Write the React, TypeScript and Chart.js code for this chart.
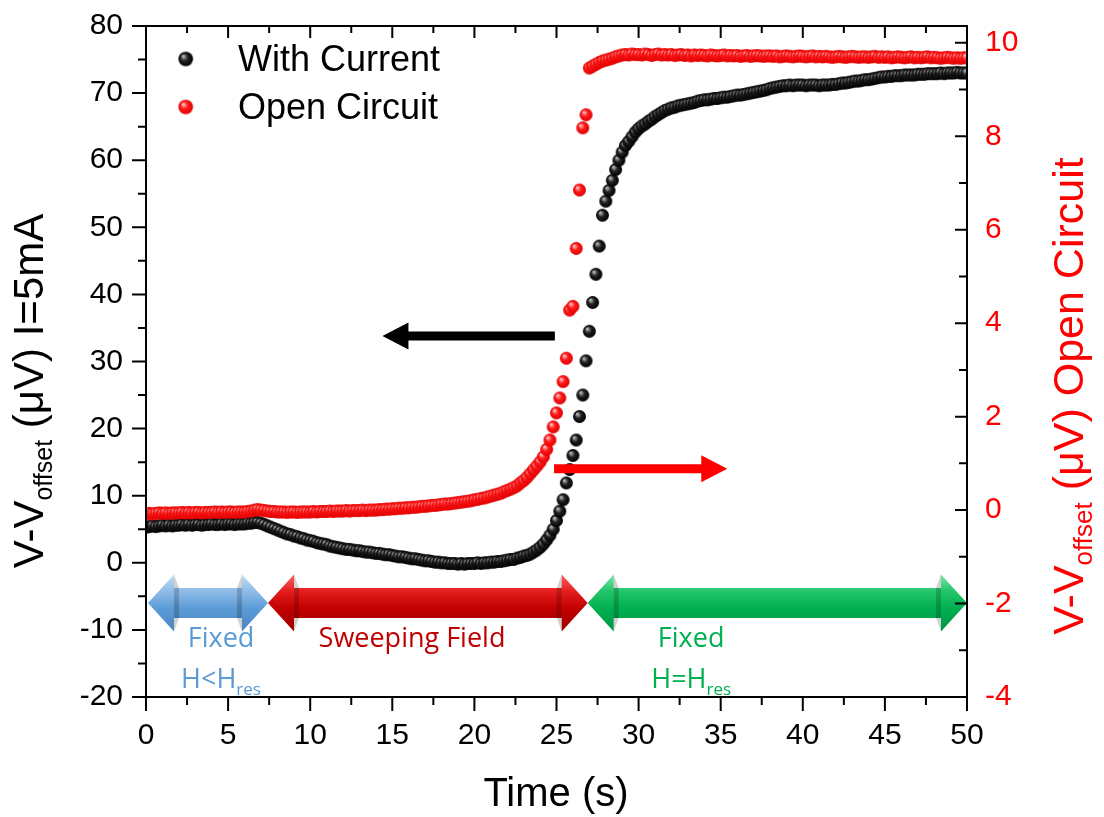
import React, { useEffect, useRef } from "react";
import { Chart, registerables } from "chart.js";

Chart.register(...registerables);

// ---------------- DATA ----------------
const timeSec = [
  0, 0.2, 0.4, 0.6, 0.8, 1, 1.2, 1.4, 1.6, 1.8,
  2, 2.2, 2.4, 2.6, 2.8, 3, 3.2, 3.4, 3.6, 3.8,
  4, 4.2, 4.4, 4.6, 4.8, 5, 5.2, 5.4, 5.6, 5.8,
  6, 6.2, 6.4, 6.6, 6.8, 7, 7.2, 7.4, 7.6, 7.8,
  8, 8.2, 8.4, 8.6, 8.8, 9, 9.2, 9.4, 9.6, 9.8,
  10, 10.2, 10.4, 10.6, 10.8, 11, 11.2, 11.4, 11.6, 11.8,
  12, 12.2, 12.4, 12.6, 12.8, 13, 13.2, 13.4, 13.6, 13.8,
  14, 14.2, 14.4, 14.6, 14.8, 15, 15.2, 15.4, 15.6, 15.8,
  16, 16.2, 16.4, 16.6, 16.8, 17, 17.2, 17.4, 17.6, 17.8,
  18, 18.2, 18.4, 18.6, 18.8, 19, 19.2, 19.4, 19.6, 19.8,
  20, 20.2, 20.4, 20.6, 20.8, 21, 21.2, 21.4, 21.6, 21.8,
  22, 22.2, 22.4, 22.6, 22.8, 23, 23.2, 23.4, 23.6, 23.8,
  24, 24.2, 24.4, 24.6, 24.8, 25, 25.2, 25.4, 25.6, 25.8,
  26, 26.2, 26.4, 26.6, 26.8, 27, 27.2, 27.4, 27.6, 27.8,
  28, 28.2, 28.4, 28.6, 28.8, 29, 29.2, 29.4, 29.6, 29.8,
  30, 30.2, 30.4, 30.6, 30.8, 31, 31.2, 31.4, 31.6, 31.8,
  32, 32.2, 32.4, 32.6, 32.8, 33, 33.2, 33.4, 33.6, 33.8,
  34, 34.2, 34.4, 34.6, 34.8, 35, 35.2, 35.4, 35.6, 35.8,
  36, 36.2, 36.4, 36.6, 36.8, 37, 37.2, 37.4, 37.6, 37.8,
  38, 38.2, 38.4, 38.6, 38.8, 39, 39.2, 39.4, 39.6, 39.8,
  40, 40.2, 40.4, 40.6, 40.8, 41, 41.2, 41.4, 41.6, 41.8,
  42, 42.2, 42.4, 42.6, 42.8, 43, 43.2, 43.4, 43.6, 43.8,
  44, 44.2, 44.4, 44.6, 44.8, 45, 45.2, 45.4, 45.6, 45.8,
  46, 46.2, 46.4, 46.6, 46.8, 47, 47.2, 47.4, 47.6, 47.8,
  48, 48.2, 48.4, 48.6, 48.8, 49, 49.2, 49.4, 49.6, 49.8,
  50,
];

// V - V_offset (µV), I = 5 mA  (left axis)
const withCurrentUV = [
  5.3, 5.4, 5.5, 5.4, 5.5, 5.6, 5.5, 5.6, 5.5, 5.6,
  5.6, 5.7, 5.6, 5.7, 5.6, 5.7, 5.7, 5.6, 5.7, 5.7,
  5.8, 5.7, 5.7, 5.8, 5.7, 5.8, 5.8, 5.7, 5.8, 5.8,
  5.8, 5.9, 5.9, 6.0, 6.0, 5.9, 5.7, 5.5, 5.3, 5.1,
  4.9, 4.7, 4.5, 4.3, 4.2, 4.0, 3.9, 3.7, 3.6, 3.4,
  3.3, 3.2, 3.0, 2.9, 2.8, 2.7, 2.5, 2.4, 2.3, 2.2,
  2.1, 2.0, 2.0, 1.9, 1.8, 1.8, 1.7, 1.6, 1.6, 1.5,
  1.4, 1.4, 1.3, 1.2, 1.2, 1.1, 1.0, 0.9, 0.9, 0.8,
  0.7, 0.6, 0.6, 0.5, 0.4, 0.3, 0.3, 0.2, 0.1, 0.1,
  0.0, 0.0, -0.1, -0.1, -0.1, -0.2, -0.1, -0.2, -0.1, -0.1,
  -0.1, 0.0, -0.1, 0.0, 0.0, 0.1, 0.1, 0.2, 0.2, 0.3,
  0.4, 0.5, 0.5, 0.7, 0.8, 1.0, 1.1, 1.3, 1.6, 1.9,
  2.3, 2.8, 3.4, 4.1, 5.0, 6.3, 7.7, 9.4, 11.9, 13.9,
  16.0, 18.3, 21.8, 25.0, 30.1, 34.5, 38.8, 43.0, 47.2, 51.8,
  53.9, 55.5, 57.0, 58.6, 60.0, 61.2, 62.2, 62.8, 63.5, 64.2,
  64.7, 65.1, 65.4, 65.8, 66.1, 66.5, 66.8, 67.1, 67.4, 67.6,
  67.8, 67.9, 68.1, 68.2, 68.3, 68.4, 68.5, 68.6, 68.8, 68.9,
  69.0, 69.0, 69.1, 69.2, 69.2, 69.3, 69.4, 69.4, 69.5, 69.6,
  69.7, 69.7, 69.8, 69.9, 70.0, 70.1, 70.2, 70.3, 70.4, 70.5,
  70.7, 70.8, 70.9, 71.0, 71.1, 71.1, 71.2, 71.1, 71.2, 71.2,
  71.2, 71.1, 71.2, 71.2, 71.2, 71.1, 71.2, 71.2, 71.2, 71.3,
  71.3, 71.4, 71.5, 71.5, 71.6, 71.7, 71.8, 71.8, 71.9, 72.0,
  72.0, 72.1, 72.2, 72.3, 72.4, 72.4, 72.5, 72.5, 72.6, 72.6,
  72.6, 72.7, 72.7, 72.7, 72.7, 72.8, 72.8, 72.8, 72.9, 72.9,
  72.9, 72.9, 73.0, 72.9, 73.0, 73.0, 73.0, 73.1, 73.0, 73.0,
  73.0,
];

// V - V_offset (µV), open circuit (right axis)
const openCircuitUV = [
  -0.08, -0.07, -0.08, -0.07, -0.06, -0.07, -0.06, -0.07, -0.06, -0.06,
  -0.06, -0.05, -0.06, -0.05, -0.06, -0.05, -0.05, -0.06, -0.05, -0.05,
  -0.05, -0.04, -0.05, -0.04, -0.05, -0.04, -0.04, -0.05, -0.04, -0.04,
  -0.04, -0.03, -0.02, 0.0, 0.01, 0.0, -0.01, -0.02, -0.03, -0.03,
  -0.04, -0.04, -0.04, -0.05, -0.04, -0.04, -0.05, -0.04, -0.04, -0.04,
  -0.04, -0.03, -0.04, -0.03, -0.03, -0.03, -0.02, -0.03, -0.02, -0.02,
  -0.02, -0.01, -0.02, -0.01, -0.01, -0.01, 0.0, -0.01, 0.0, 0.0,
  0.0, 0.01, 0.01, 0.02, 0.02, 0.03, 0.03, 0.04, 0.04, 0.05,
  0.05, 0.06, 0.06, 0.07, 0.08, 0.08, 0.09, 0.1, 0.1, 0.11,
  0.12, 0.13, 0.13, 0.14, 0.15, 0.16, 0.17, 0.18, 0.19, 0.2,
  0.22, 0.23, 0.25, 0.26, 0.28, 0.3, 0.32, 0.34, 0.36, 0.39,
  0.42, 0.45, 0.48, 0.52, 0.58, 0.63, 0.7, 0.78, 0.86, 0.94,
  1.03, 1.14, 1.3, 1.5, 1.78, 2.08, 2.4, 2.75, 3.25, 4.28,
  4.36, 5.6, 6.85, 8.18, 8.46, 9.46, 9.5, 9.54, 9.58, 9.61,
  9.63, 9.65, 9.67, 9.7, 9.72, 9.74, 9.75, 9.74, 9.76, 9.75,
  9.75, 9.74, 9.76, 9.75, 9.73, 9.75, 9.76, 9.74, 9.75, 9.74,
  9.75, 9.73, 9.74, 9.75, 9.73, 9.74, 9.72, 9.74, 9.73, 9.74,
  9.73, 9.72, 9.74, 9.73, 9.72, 9.73, 9.74, 9.72, 9.73, 9.72,
  9.73, 9.71, 9.72, 9.73, 9.71, 9.72, 9.73, 9.72, 9.71, 9.72,
  9.72, 9.71, 9.72, 9.7, 9.71, 9.72, 9.71, 9.7, 9.71, 9.72,
  9.71, 9.7, 9.71, 9.72, 9.7, 9.71, 9.7, 9.71, 9.7, 9.69,
  9.7, 9.71, 9.7, 9.69, 9.7, 9.71, 9.7, 9.69, 9.7, 9.7,
  9.69, 9.7, 9.71, 9.69, 9.7, 9.69, 9.7, 9.68, 9.69, 9.7,
  9.69, 9.68, 9.69, 9.7, 9.68, 9.69, 9.68, 9.69, 9.7, 9.68,
  9.69, 9.68, 9.67, 9.68, 9.69, 9.68, 9.67, 9.68, 9.67, 9.68,
  9.68,
];

const seriesNames = ["With Current", "Open Circuit"];

const xTickValues = [0, 5, 10, 15, 20, 25, 30, 35, 40, 45, 50];
const xMinorValues = [2.5, 7.5, 12.5, 17.5, 22.5, 27.5, 32.5, 37.5, 42.5, 47.5];
const leftTickValues = [-20, -10, 0, 10, 20, 30, 40, 50, 60, 70, 80];
const leftMinorValues = [-15, -5, 5, 15, 25, 35, 45, 55, 65, 75];
const rightTickValues = [-4, -2, 0, 2, 4, 6, 8, 10];
const rightMinorValues = [-3, -1, 1, 3, 5, 7, 9];

// measurement phases (time boundaries, s) and their labels
const phaseBounds = [0, 7.43, 26.9, 50];
const phaseLabels = ["Fixed", "Sweeping Field", "Fixed"];
const phaseSubLabels: [string, string][] = [["H<H", "res"], ["", ""], ["H=H", "res"]];

// ---------------- STYLE / LAYOUT ----------------
const W = 1104;
const H = 817;
const AREA = { left: 146, right: 967, top: 26, bottom: 697 };
const SANS = "'Liberation Sans', Arial, sans-serif";
const CAL = "'Open Sans', 'Noto Sans', sans-serif";

const phaseStyle = [
  { stops: ["#c4dcf4", "#8dbbe8", "#5b9bd5", "#4a86c2"], text: "#5b9bd5" },
  { stops: ["#ff6060", "#e41c1c", "#c00000", "#a30000"], text: "#c00000" },
  { stops: ["#74e8a6", "#22c46a", "#00b050", "#009444"], text: "#00b050" },
];
const phaseArrowY = -6; // left-axis value of the phase arrows
const phaseTextPos = [
  { t: 4.57, v1: -12.5, v2: -18.6 },
  { t: 16.2, v1: -12.5, v2: -18.6 },
  { t: 33.2, v1: -12.5, v2: -18.6 },
];
const pointerArrows = [
  { from: 24.9, to: 14.4, v: 33.8, color: "#000000" },
  { from: 24.85, to: 35.4, v: 14.0, color: "#ff0000" },
];

function makeSphere(r: number, light: string, base: string, dark: string) {
  const c = document.createElement("canvas");
  const s = Math.ceil(r * 2) + 2;
  c.width = s;
  c.height = s;
  const g = c.getContext("2d")!;
  const cx = s / 2;
  const cy = s / 2;
  const grad = g.createRadialGradient(cx - r * 0.35, cy - r * 0.4, r * 0.08, cx, cy, r);
  grad.addColorStop(0, light);
  grad.addColorStop(0.45, base);
  grad.addColorStop(1, dark);
  g.fillStyle = grad;
  g.beginPath();
  g.arc(cx, cy, r, 0, Math.PI * 2);
  g.fill();
  return c;
}

function drawSingleArrow(ctx: CanvasRenderingContext2D, x0: number, x1: number, y: number, color: string) {
  const dir = Math.sign(x1 - x0);
  const headLen = 26;
  const headHalf = 13.5;
  const shaftHalf = 4.5;
  const xb = x1 - dir * headLen;
  ctx.fillStyle = color;
  ctx.beginPath();
  ctx.moveTo(x0, y - shaftHalf);
  ctx.lineTo(xb, y - shaftHalf);
  ctx.lineTo(xb, y - headHalf);
  ctx.lineTo(x1, y);
  ctx.lineTo(xb, y + headHalf);
  ctx.lineTo(xb, y + shaftHalf);
  ctx.lineTo(x0, y + shaftHalf);
  ctx.closePath();
  ctx.fill();
}

function drawDoubleArrow(ctx: CanvasRenderingContext2D, xl: number, xr: number, y: number, stops: string[]) {
  const headLen = 26;
  const headHalf = 28.5;
  const shaftHalf = 15;
  const grad = ctx.createLinearGradient(0, y - headHalf, 0, y + headHalf);
  grad.addColorStop(0, stops[0]);
  grad.addColorStop(0.3, stops[1]);
  grad.addColorStop(0.6, stops[2]);
  grad.addColorStop(1, stops[3]);
  ctx.fillStyle = grad;
  ctx.beginPath();
  ctx.moveTo(xl, y);
  ctx.lineTo(xl + headLen, y - headHalf);
  ctx.lineTo(xl + headLen, y - shaftHalf);
  ctx.lineTo(xr - headLen, y - shaftHalf);
  ctx.lineTo(xr - headLen, y - headHalf);
  ctx.lineTo(xr, y);
  ctx.lineTo(xr - headLen, y + headHalf);
  ctx.lineTo(xr - headLen, y + shaftHalf);
  ctx.lineTo(xl + headLen, y + shaftHalf);
  ctx.lineTo(xl + headLen, y + headHalf);
  ctx.closePath();
  ctx.fill();
  // darker facets on the backs of the heads
  ctx.fillStyle = "rgba(0,0,0,0.18)";
  ctx.beginPath();
  ctx.moveTo(xl + headLen, y - headHalf);
  ctx.lineTo(xl + headLen + 5, y - shaftHalf);
  ctx.lineTo(xl + headLen + 5, y + shaftHalf);
  ctx.lineTo(xl + headLen, y + headHalf);
  ctx.closePath();
  ctx.fill();
  ctx.beginPath();
  ctx.moveTo(xr - headLen, y - headHalf);
  ctx.lineTo(xr - headLen - 5, y - shaftHalf);
  ctx.lineTo(xr - headLen - 5, y + shaftHalf);
  ctx.lineTo(xr - headLen, y + headHalf);
  ctx.closePath();
  ctx.fill();
}

function drawRotatedTitle(
  ctx: CanvasRenderingContext2D,
  x: number,
  y: number,
  parts: { text: string; size: number; dy: number }[],
  color: string
) {
  ctx.save();
  ctx.translate(x, y);
  ctx.rotate(-Math.PI / 2);
  ctx.fillStyle = color;
  ctx.textBaseline = "alphabetic";
  ctx.textAlign = "left";
  let total = 0;
  const widths = parts.map((p) => {
    ctx.font = `${p.size}px ${SANS}`;
    const w = ctx.measureText(p.text).width;
    total += w;
    return w;
  });
  let cx = -total / 2;
  parts.forEach((p, i) => {
    ctx.font = `${p.size}px ${SANS}`;
    ctx.fillText(p.text, cx, p.dy);
    cx += widths[i];
  });
  ctx.restore();
}

function drawSubText(
  ctx: CanvasRenderingContext2D,
  cx: number,
  baseline: number,
  main: string,
  sub: string,
  color: string
) {
  ctx.save();
  ctx.fillStyle = color;
  ctx.textAlign = "left";
  ctx.textBaseline = "alphabetic";
  ctx.font = `27px ${CAL}`;
  const w1 = ctx.measureText(main).width;
  ctx.font = `17px ${CAL}`;
  const w2 = ctx.measureText(sub).width;
  const x0 = cx - (w1 + w2) / 2;
  ctx.font = `27px ${CAL}`;
  ctx.fillText(main, x0, baseline);
  ctx.font = `17px ${CAL}`;
  ctx.fillText(sub, x0 + w1, baseline + 7);
  ctx.restore();
}

export default function App() {
  const canvasRef = useRef<HTMLCanvasElement | null>(null);

  useEffect(() => {
    if (!canvasRef.current) return;
    const blackSphere = makeSphere(6.5, "#b8b8b8", "#222222", "#000000");
    const redSphere = makeSphere(6.5, "#ffc4c4", "#ff1a1a", "#e00000");
    const legendBlack = makeSphere(7.3, "#b8b8b8", "#222222", "#000000");
    const legendRed = makeSphere(7.3, "#ffc4c4", "#ff1a1a", "#e00000");

    const overlay = {
      id: "overlay",
      afterDatasetsDraw(chart: any) {
        const ctx: CanvasRenderingContext2D = chart.ctx;
        const a = chart.chartArea;
        const xs = chart.scales.x;
        const yl = chart.scales.y;
        const yr = chart.scales.y2;
        ctx.save();

        // phase arrows
        const yArrow = yl.getPixelForValue(phaseArrowY);
        for (let i = 0; i < phaseLabels.length; i++) {
          const xl = xs.getPixelForValue(phaseBounds[i]);
          const xr = xs.getPixelForValue(phaseBounds[i + 1]);
          drawDoubleArrow(ctx, xl + (i === 0 ? 2 : 0), xr, yArrow, phaseStyle[i].stops);
        }
        // phase labels
        for (let i = 0; i < phaseLabels.length; i++) {
          const p = phaseTextPos[i];
          const cx = xs.getPixelForValue(p.t);
          ctx.fillStyle = phaseStyle[i].text;
          ctx.font = `27px ${CAL}`;
          ctx.textAlign = "center";
          ctx.textBaseline = "alphabetic";
          ctx.fillText(phaseLabels[i], cx, yl.getPixelForValue(p.v1));
          const [m, s] = phaseSubLabels[i];
          if (m) drawSubText(ctx, cx, yl.getPixelForValue(p.v2), m, s, phaseStyle[i].text);
        }
        // pointer arrows
        pointerArrows.forEach((p) => {
          drawSingleArrow(
            ctx,
            xs.getPixelForValue(p.from),
            xs.getPixelForValue(p.to),
            yl.getPixelForValue(p.v),
            p.color
          );
        });

        // frame
        ctx.strokeStyle = "#000";
        ctx.lineWidth = 2;
        ctx.strokeRect(a.left, a.top, a.right - a.left, a.bottom - a.top);

        // tick marks
        ctx.lineWidth = 2;
        ctx.beginPath();
        const vTick = (x: number, y0: number, y1: number) => {
          ctx.moveTo(x, y0);
          ctx.lineTo(x, y1);
        };
        const hTick = (y: number, x0: number, x1: number) => {
          ctx.moveTo(x0, y);
          ctx.lineTo(x1, y);
        };
        xTickValues.forEach((v) => {
          const x = xs.getPixelForValue(v);
          vTick(x, a.bottom, a.bottom + 14);
          vTick(x, a.top, a.top + 12);
        });
        xMinorValues.forEach((v) => {
          const x = xs.getPixelForValue(v);
          vTick(x, a.bottom, a.bottom + 8);
          vTick(x, a.top, a.top + 7);
        });
        leftTickValues.forEach((v) => hTick(yl.getPixelForValue(v), a.left - 14, a.left));
        leftMinorValues.forEach((v) => hTick(yl.getPixelForValue(v), a.left - 8, a.left));
        rightTickValues.forEach((v) => hTick(yr.getPixelForValue(v), a.right - 12, a.right));
        rightMinorValues.forEach((v) => hTick(yr.getPixelForValue(v), a.right - 8, a.right));
        ctx.stroke();

        // legend
        const legendSpheres = [legendBlack, legendRed];
        const legendRows = [59, 107];
        seriesNames.forEach((name, i) => {
          const img = legendSpheres[i];
          ctx.drawImage(img, 185.7 - img.width / 2, legendRows[i] - img.height / 2);
          ctx.fillStyle = "#000";
          ctx.font = `36px ${SANS}`;
          ctx.textAlign = "left";
          ctx.textBaseline = "alphabetic";
          ctx.fillText(name, 238, legendRows[i] + 12);
        });

        // axis titles
        ctx.fillStyle = "#000";
        ctx.font = `40px ${SANS}`;
        ctx.textAlign = "center";
        ctx.textBaseline = "alphabetic";
        ctx.fillText("Time (s)", (a.left + a.right) / 2 - 0.5, 806);

        drawRotatedTitle(
          ctx,
          43,
          391,
          [
            { text: "V-V", size: 42, dy: 0 },
            { text: "offset", size: 25, dy: 9 },
            { text: " (\u03bcV) I=5mA", size: 42, dy: 0 },
          ],
          "#000"
        );
        drawRotatedTitle(
          ctx,
          1083,
          396,
          [
            { text: "V-V", size: 43, dy: 0 },
            { text: "offset", size: 26, dy: 9 },
            { text: " (\u03bcV) Open Circuit", size: 43, dy: 0 },
          ],
          "#ff0000"
        );
        ctx.restore();
      },
    };

    const chart = new Chart(canvasRef.current, {
      type: "scatter",
      data: {
        datasets: [
          {
            label: seriesNames[1],
            data: timeSec.map((t, i) => ({ x: t, y: openCircuitUV[i] })),
            yAxisID: "y2",
            pointStyle: redSphere as any,
            pointRadius: 6.5,
            backgroundColor: "#ff0000",
            borderColor: "#ff0000",
            order: 0,
          },
          {
            label: seriesNames[0],
            data: timeSec.map((t, i) => ({ x: t, y: withCurrentUV[i] })),
            yAxisID: "y",
            pointStyle: blackSphere as any,
            pointRadius: 6.5,
            backgroundColor: "#000000",
            borderColor: "#000000",
            order: 1,
          },
        ],
      },
      options: {
        responsive: false,
        animation: false,
        events: [],
        devicePixelRatio: 1,
        layout: { padding: { top: AREA.top, left: 0, right: 0, bottom: 0 } },
        plugins: {
          legend: { display: false },
          tooltip: { enabled: false },
        },
        scales: {
          x: {
            type: "linear",
            position: "bottom",
            min: 0,
            max: 50,
            grid: { display: false, drawTicks: true, tickLength: 21 },
            border: { display: false },
            ticks: {
              stepSize: 5,
              autoSkip: false,
              maxRotation: 0,
              color: "#000",
              padding: 0,
              font: { size: 30, family: SANS },
            },
            afterBuildTicks: (s: any) => {
              s.ticks = xTickValues.map((v) => ({ value: v }));
            },
            afterFit: (s: any) => {
              s.height = H - AREA.bottom;
            },
          },
          y: {
            type: "linear",
            position: "left",
            min: -20,
            max: 80,
            grid: { display: false, drawTicks: true, tickLength: 23 },
            border: { display: false },
            ticks: {
              stepSize: 10,
              color: "#000",
              padding: 0,
              font: { size: 30, family: SANS },
            },
            afterBuildTicks: (s: any) => {
              s.ticks = leftTickValues.map((v) => ({ value: v }));
            },
            afterFit: (s: any) => {
              s.width = AREA.left;
            },
          },
          y2: {
            type: "linear",
            position: "right",
            min: -4,
            max: 10.36,
            grid: { display: false, drawTicks: true, tickLength: 18 },
            border: { display: false },
            ticks: {
              stepSize: 2,
              color: "#ff0000",
              padding: 0,
              font: { size: 30, family: SANS },
            },
            afterBuildTicks: (s: any) => {
              s.ticks = rightTickValues.map((v) => ({ value: v }));
            },
            afterFit: (s: any) => {
              s.width = W - AREA.right;
            },
          },
        },
      },
      plugins: [overlay],
    });

    return () => {
      chart.destroy();
    };
  }, []);

  return (
    <div style={{ position: "absolute", left: 0, top: 0, width: W, height: H, background: "#fff" }}>
      <canvas ref={canvasRef} width={W} height={H} style={{ display: "block" }} />
    </div>
  );
}
